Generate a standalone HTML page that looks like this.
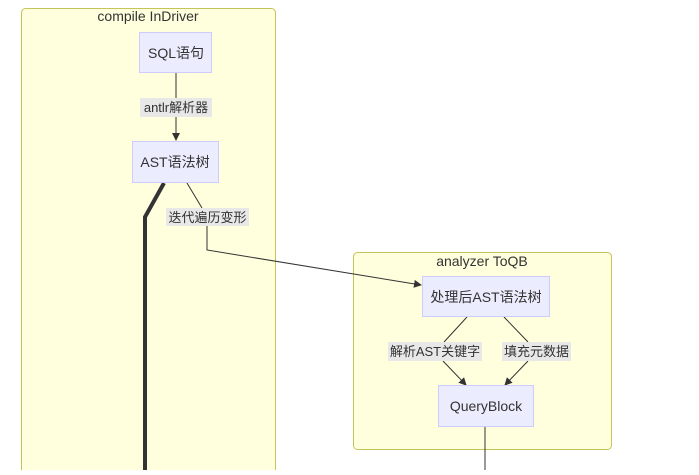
<!DOCTYPE html>
<html><head><meta charset="utf-8"><style>
body{margin:0;background:#fff;width:699px;height:470px;overflow:hidden;font-family:"Liberation Sans","Noto Sans CJK SC",sans-serif;}
</style></head><body>
<svg width="699" height="470" xmlns="http://www.w3.org/2000/svg" font-family="'Liberation Sans','Noto Sans CJK SC',sans-serif">
<defs><marker id="a" markerWidth="8" markerHeight="8" refX="7" refY="4" orient="auto" markerUnits="userSpaceOnUse"><path d="M0,0 L8,4 L0,8 z" fill="#333"/></marker></defs>
<rect x="21.5" y="8.5" width="254" height="480" rx="4" fill="#ffffde" stroke="#c4c45a"/>
<rect x="353.5" y="252.5" width="258" height="197" rx="4" fill="#ffffde" stroke="#c4c45a"/>
<text x="148" y="21" font-size="14" text-anchor="middle" fill="#333">compile InDriver</text>
<text x="482" y="266" font-size="14" text-anchor="middle" fill="#333">analyzer ToQB</text>
<line x1="176" y1="73" x2="176" y2="140" stroke="#333" marker-end="url(#a)"/>
<path d="M164,183 L145,217 L145,470" stroke="#333" stroke-width="4" fill="none"/>
<path d="M187,183 L202,208" stroke="#333" fill="none"/>
<path d="M207,226 L207,250 L421,285" stroke="#333" fill="none" marker-end="url(#a)"/>
<path d="M467,317 L444,342 M443,361 L466,385" stroke="#333" fill="none" marker-end="url(#a)"/>
<path d="M504,317 L528,342 M528,361 L505,385" stroke="#333" fill="none" marker-end="url(#a)"/>
<line x1="485" y1="427" x2="485" y2="470" stroke="#333"/>
<rect x="139.5" y="32.5" width="72" height="40" fill="#ececff" stroke="#ccccff"/>
<text x="176" y="58" font-size="14" text-anchor="middle" fill="#333">SQL语句</text>
<rect x="132.5" y="141.5" width="86" height="41" fill="#ececff" stroke="#ccccff"/>
<text x="175" y="167" font-size="14" text-anchor="middle" fill="#333">AST语法树</text>
<rect x="422.5" y="276.5" width="127" height="40" fill="#ececff" stroke="#ccccff"/>
<text x="486" y="302" font-size="14" text-anchor="middle" fill="#333">处理后AST语法树</text>
<rect x="438.5" y="385.5" width="95" height="41" fill="#ececff" stroke="#ccccff"/>
<text x="486" y="411" font-size="14" text-anchor="middle" fill="#333">QueryBlock</text>
<rect x="140" y="98" width="72" height="19" fill="#e8e8e8"/>
<text x="176" y="112" font-size="13" text-anchor="middle" fill="#333">antlr解析器</text>
<rect x="166" y="208" width="83" height="18" fill="#e8e8e8"/>
<text x="207.5" y="222" font-size="13" text-anchor="middle" fill="#333">迭代遍历变形</text>
<rect x="388" y="342" width="94" height="19" fill="#e8e8e8"/>
<text x="435" y="356" font-size="13" text-anchor="middle" fill="#333">解析AST关键字</text>
<rect x="502" y="342" width="69" height="19" fill="#e8e8e8"/>
<text x="536.5" y="356" font-size="13" text-anchor="middle" fill="#333">填充元数据</text>
</svg>
</body></html>
